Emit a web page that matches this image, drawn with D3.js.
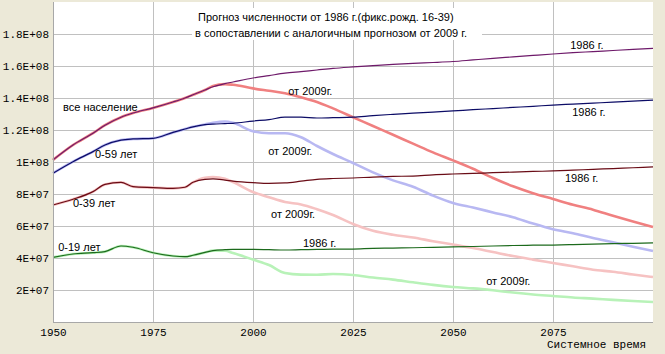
<!DOCTYPE html>
<html>
<head>
<meta charset="utf-8">
<script src="https://cdn.jsdelivr.net/npm/d3@7"></script>
<style>
  body { margin: 0; background: #ece9d8; }
  svg { display: block; }
</style>
</head>
<body>
<script>
// Years sampled along the time axis
var years = [1950, 1955, 1960, 1963, 1967, 1970, 1975, 1980, 1983, 1985, 1988, 1990, 1993, 1995,
             2000, 2004, 2008, 2012, 2016, 2020, 2025, 2030, 2035, 2040, 2045, 2050, 2055, 2060,
             2065, 2070, 2075, 2080, 2085, 2090, 2095, 2100];

// Population, millions. "1986" = forecast of 1986, "2009" = forecast of 2009
var total1986 = [101.3, 110.6, 118, 123, 128, 130.6, 133.8, 137.5, 140, 142, 145, 147, 149, 150,
                 152.5, 154, 155.5, 156.5, 157.5, 158.5, 159.4, 160.2, 161, 161.7, 162.2, 162.8, 163.8, 164.8,
                 165.7, 166.6, 167.5, 168.3, 169, 169.7, 170.4, 171];
var total2009 = [101.3, 110.6, 118, 123, 128, 130.6, 133.8, 137.5, 140, 142, 145, 147.5, 148.7, 148.3,
                 146, 144.5, 143, 140.5, 137.5, 133.5, 128, 122.5, 117, 111.5, 106, 101, 95.8, 90,
                 84.8, 80.5, 76.9, 73.3, 70.2, 66.4, 62.8, 59.4];
var age59_1986 = [93, 100.2, 106.5, 110.6, 113.7, 114.4, 114.8, 118.5, 120.6, 122, 123.3, 123.7, 124, 124.2,
                  125.6, 126.5, 128, 128, 127.5, 127.7, 128, 129, 129.8, 130.5, 131.2, 131.9, 132.7, 133.4,
                  134.1, 134.8, 135.6, 136.2, 136.8, 137.4, 138.1, 138.7];
var age59_2009 = [93, 100.2, 106.5, 110.6, 113.7, 114.4, 114.8, 118.5, 120.6, 122, 123.5, 124.5, 125.3, 124.5,
                  119.2, 118, 118, 115.5, 110, 105, 99.4, 93.5, 88.5, 84.5, 79, 74.4, 71.5, 68.5,
                  65.5, 61.5, 58, 55.5, 52.5, 49.8, 47, 44.4];
var age39_1986 = [73.1, 76.7, 81.5, 86, 87.3, 84.6, 84, 83.5, 84.2, 87.3, 89.2, 89.4, 88.7, 88.1,
                  87.1, 86.6, 86.9, 88, 89.2, 89.7, 90, 90.6, 91, 91.2, 92, 92.5, 92.9, 93.3,
                  93.7, 94.1, 94.4, 94.9, 95.4, 95.9, 96.4, 96.9];
var age39_2009 = [73.1, 76.7, 81.5, 86, 87.3, 84.6, 84, 83.5, 84.2, 87.3, 90.2, 90.6, 89.5, 87.5,
                  81.25, 78, 75, 73.5, 70.5, 66.9, 61.25, 57, 54.5, 52.8, 50.5, 48.4, 46.2, 43.7,
                  41.2, 39, 36.9, 34.8, 32.7, 31.4, 29.7, 28.1];
var age19_1986 = [40.4, 42.5, 43.3, 44, 47.5, 46.7, 43.3, 41.25, 40.8, 41.7, 43.5, 44.6, 45.2, 45.4,
                  45.4, 45.2, 45, 45.2, 45.4, 45.5, 45.6, 46, 46.2, 46.4, 46.7, 46.9, 47.2, 47.5,
                  47.8, 48, 48.1, 48.4, 48.7, 49, 49.2, 49.4];
var age19_2009 = [40.4, 42.5, 43.3, 44, 47.5, 46.7, 43.3, 41.25, 40.8, 41.7, 43.5, 44.6, 44.5, 43.1,
                  39, 35.6, 30.6, 29.6, 29.5, 30, 29.4, 27.8, 26.5, 24.8, 23.2, 21.9, 21, 19.8,
                  18.4, 17.2, 16.25, 15.3, 14.6, 13.8, 13.1, 12.5];

// Axis ticks
var xTickValues = [1950, 1975, 2000, 2025, 2050, 2075];
var xGridValues = [1975, 2000, 2025, 2050, 2075];
var yTickValues = [20, 40, 60, 80, 100, 120, 140, 160, 180];
var yTickLabels = ["2E+07", "4E+07", "6E+07", "8E+07", "1E+08", "1.2E+08", "1.4E+08", "1.6E+08", "1.8E+08"];

var titleLines = ["Прогноз численности от 1986 г.(фикс.рожд. 16-39)",
                  "в сопоставлении с аналогичным прогнозом от 2009 г."];

// Text labels placed in data coordinates (year, millions)
var annotations = [
    {text: "все население", year: 1952.5, value: 131.9},
    {text: "0-59 лет", year: 1960.5, value: 102.5},
    {text: "0-39 лет", year: 1955, value: 71.9},
    {text: "0-19 лет", year: 1951.3, value: 44.4},
    {text: "от 2009г.", year: 2008.8, value: 141.9},
    {text: "от 2009г.", year: 2003.8, value: 104.4},
    {text: "от 2009г.", year: 2004.5, value: 65},
    {text: "от 2009г.", year: 2058.3, value: 23.1},
    {text: "1986 г.", year: 2079.3, value: 170.6},
    {text: "1986 г.", year: 2079.8, value: 128.7},
    {text: "1986 г.", year: 2078, value: 87.5},
    {text: "1986 г.", year: 2012.5, value: 46.9}
];

var w = 665;
var h = 354;
var plotLeft = 53, plotTop = 2;
var pw = 600, ph = 320;

var svg = d3.select("body").append("svg")
    .attr("width", w)
    .attr("height", h);

svg.append("rect")
    .attr("width", w)
    .attr("height", h)
    .attr("fill", "#ece9d8");

var g = svg.append("g")
    .attr("transform", "translate(" + plotLeft + "," + plotTop + ")");

g.append("rect")
    .attr("width", pw)
    .attr("height", ph)
    .attr("fill", "#ffffff");

var xScale = d3.scaleLinear().domain([1950, 2100]).range([0, pw]);
var yScale = d3.scaleLinear().domain([0, 200]).range([ph, 0]);

// Grid lines
g.selectAll(".hgrid")
    .data(yTickValues)
    .enter()
    .append("line")
    .attr("class", "hgrid")
    .attr("x1", 0).attr("x2", pw)
    .attr("y1", function(d) { return yScale(d) + 0.5; })
    .attr("y2", function(d) { return yScale(d) + 0.5; })
    .attr("stroke", "#c0c0c0");
g.selectAll(".vgrid")
    .data(xGridValues)
    .enter()
    .append("line")
    .attr("class", "vgrid")
    .attr("x1", function(d) { return xScale(d) + 0.5; })
    .attr("x2", function(d) { return xScale(d) + 0.5; })
    .attr("y1", 0).attr("y2", ph)
    .attr("stroke", "#c0c0c0");

// Title box
g.append("rect")
    .attr("x", 139).attr("y", 6)
    .attr("width", 290).attr("height", 32)
    .attr("fill", "#ffffff");
g.selectAll(".title")
    .data(titleLines)
    .enter()
    .append("text")
    .attr("class", "title")
    .attr("x", function(d, i) { return i == 0 ? 145 : 142; })
    .attr("y", function(d, i) { return 19 + i * 16; })
    .attr("font-family", "Liberation Sans, Arial, sans-serif")
    .attr("font-size", 11)
    .text(function(d) { return d; });

// Lines
var series = [
    {values: total2009, color: "#f08080", width: 2.6},
    {values: age59_2009, color: "#b8b8f2", width: 2.6},
    {values: age39_2009, color: "#f6c2c2", width: 2.6},
    {values: age19_2009, color: "#b8f2b8", width: 2.6},
    {values: total1986, color: "#6e1a6a", width: 1.2},
    {values: age59_1986, color: "#0c0c66", width: 1.2},
    {values: age39_1986, color: "#6a0c16", width: 1.2},
    {values: age19_1986, color: "#1c6a1c", width: 1.2}
];

var line = d3.line()
    .x(function(d, i) { return xScale(years[i]); })
    .y(function(d) { return yScale(d); })
    .curve(d3.curveMonotoneX);

g.selectAll(".series")
    .data(series)
    .enter()
    .append("path")
    .attr("class", "series")
    .attr("d", function(d) { return line(d.values); })
    .attr("fill", "none")
    .attr("stroke", function(d) { return d.color; })
    .attr("stroke-width", function(d) { return d.width; });

// Labels
g.selectAll(".ann")
    .data(annotations)
    .enter()
    .append("text")
    .attr("class", "ann")
    .attr("x", function(d) { return xScale(d.year); })
    .attr("y", function(d) { return yScale(d.value); })
    .attr("font-family", "Liberation Sans, Arial, sans-serif")
    .attr("font-size", 11)
    .attr("fill", "#000")
    .text(function(d) { return d.text; });

// Axes borders
g.append("line").attr("x1", 0.5).attr("x2", 0.5).attr("y1", 0).attr("y2", ph)
    .attr("stroke", "#a8a8a8");
g.append("line").attr("x1", 0).attr("x2", pw).attr("y1", ph + 0.5).attr("y2", ph + 0.5)
    .attr("stroke", "#a8a8a8");

// Y axis labels
var yAxis = d3.axisLeft(yScale)
    .tickValues(yTickValues)
    .tickSize(0)
    .tickPadding(4)
    .tickFormat(function(d, i) { return yTickLabels[i]; });
g.append("g")
    .call(yAxis)
    .call(function(s) { s.select(".domain").remove(); })
    .selectAll("text")
    .attr("font-family", "Liberation Mono, DejaVu Sans Mono, monospace")
    .attr("font-size", 11)
    .attr("fill", "#000");

// X axis labels
var xAxis = d3.axisBottom(xScale)
    .tickValues(xTickValues)
    .tickSize(0)
    .tickPadding(6)
    .tickFormat(d3.format("d"));
g.append("g")
    .attr("transform", "translate(0," + ph + ")")
    .call(xAxis)
    .call(function(s) { s.select(".domain").remove(); })
    .selectAll("text")
    .attr("font-family", "Liberation Mono, DejaVu Sans Mono, monospace")
    .attr("font-size", 11)
    .attr("fill", "#000");

svg.append("text")
    .attr("x", 646)
    .attr("y", 348)
    .attr("text-anchor", "end")
    .attr("font-family", "Liberation Mono, DejaVu Sans Mono, monospace")
    .attr("font-size", 11)
    .text("Системное время");
</script>
</body>
</html>
